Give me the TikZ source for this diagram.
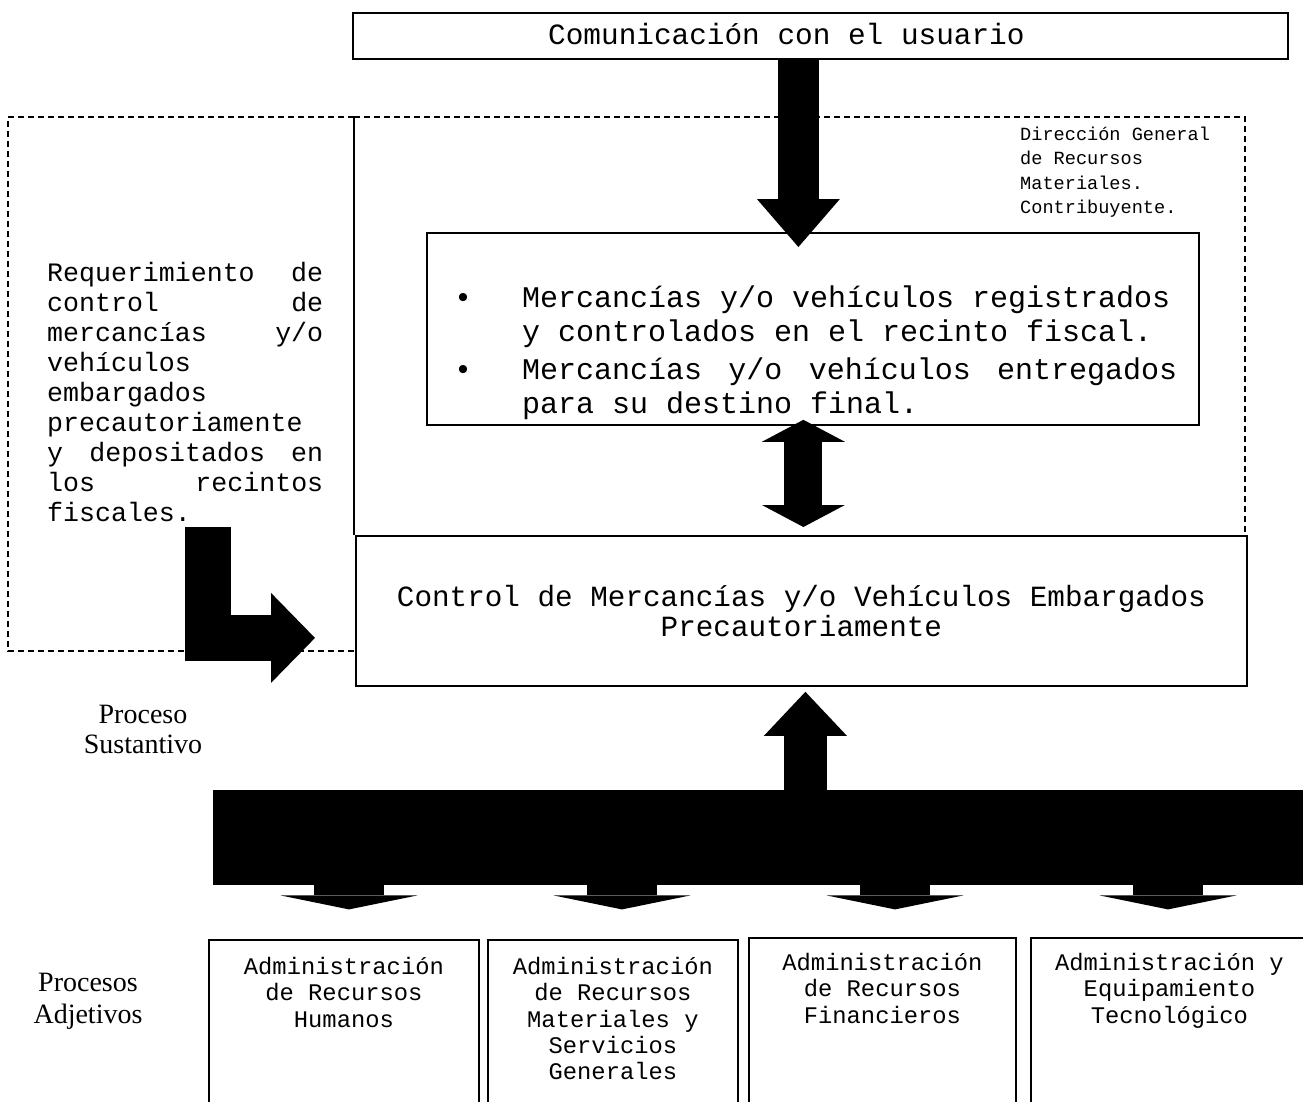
\documentclass[tikz,border=0pt]{standalone}
\usepackage{fontspec}
\setmainfont{Liberation Serif}
\newfontfamily\cour{Liberation Mono}
\usetikzlibrary{arrows.meta,positioning,calc}

\tikzset{
  panel/.style={draw, line width=1.8pt, inner sep=0pt},
  dashframe/.style={line width=1.3pt, dash pattern=on 6pt off 4pt},
  blk/.style={draw=black, line width=#1},
  admtext/.style={align=center, inner sep=0pt, font=\cour\fontsize{23.8}{26.3}\selectfont},
}

\begin{document}
\begin{tikzpicture}[x=1pt, y=-1pt]
    \useasboundingbox (0,0) rectangle (1303,1101);

    %boxes
    \node[panel, anchor=north west, minimum width=935pt, minimum height=46pt] (usr) at (352,12) {};
    \node[panel, anchor=north west, minimum width=772pt, minimum height=192pt] (bul) at (426,232) {};
    \node[panel, anchor=north west, minimum width=891pt, minimum height=150pt, align=center,
      font=\cour\fontsize{29.3}{30}\selectfont] (ctrl) at (355,535)
      {Control de Mercancías y/o Vehículos Embargados\\Precautoriamente};
    \node[panel, anchor=north west, minimum width=270pt, minimum height=175pt] (rh) at (208,939) {};
    \node[panel, anchor=north west, minimum width=250pt, minimum height=175pt] (rm) at (487,939) {};
    \node[panel, anchor=north west, minimum width=267pt, minimum height=175pt] (rf) at (748,937) {};
    \node[panel, anchor=north west, minimum width=285pt, minimum height=175pt] (ti) at (1030,937) {};

    %dashed area
    \draw[dashframe] (354,117) -- (8,117) -- (8,651) -- (355,651);
    \draw[dashframe] (354,117) -- (1245,117) -- (1245,535);
    \draw[line width=1.2pt] (354,117) -- (354,535);

    %texts
    \node[anchor=base west, inner sep=0pt, font=\cour\fontsize{29.4}{30}\selectfont] (usrtxt) at (548,44)
      {Comunicación con el usuario};
    \node[anchor=north west, align=left, inner sep=0pt, font=\cour\fontsize{18.6}{24.3}\selectfont] (dgrm) at (1020,127)
      {\spaceskip=0pt Dirección General\\de Recursos\\Materiales.\\Contribuyente.};
    \node[anchor=north west, text width=723pt, align=justify, inner sep=0pt, font=\cour\fontsize{30}{34}\selectfont] (bultxt) at (454,286)
      {\spaceskip=0pt \makebox[68pt][l]{•}Mercancías y/o vehículos registrados\\
       \hspace*{68pt}y controlados en el recinto fiscal.\\[4pt]
       \makebox[68pt][l]{•}Mercancías\hfill y/o\hfill vehículos\hfill entregados\\
       \hspace*{68pt}para su destino final.};
    \node[anchor=north west, text width=276pt, align=left, inner sep=0pt, font=\cour\fontsize{26.6}{30}\selectfont] (req) at (47,262)
      {Requerimiento\hfill de\\control\hfill de\\mercancías\hfill y/o\\vehículos\\embargados\\precautoriamente\\y\hfill depositados\hfill en\\los\hfill recintos\\fiscales.};
    \node[anchor=north, align=center, inner sep=0pt, font=\fontsize{28}{30}\selectfont] (sust) at (143,705) {Proceso\\Sustantivo};
    \node[anchor=north, align=center, inner sep=0pt, font=\fontsize{28}{32}\selectfont] (adj) at (88,973) {Procesos\\Adjetivos};

    \node[admtext, below=18pt of rh.north] (rhtxt) {Administración\\de Recursos\\Humanos};
    \node[admtext, below=18pt of rm.north] (rmtxt) {Administración\\de Recursos\\Materiales y\\Servicios\\Generales};
    \node[admtext, below=16pt of rf.north] (rftxt) {Administración\\de Recursos\\Financieros};
    \node[admtext, below=16pt of ti.north, xshift=-4pt] (titxt) {Administración y\\Equipamiento\\Tecnológico};

    %bar
    \node[anchor=north west, fill=black, minimum width=1100pt, minimum height=95pt, inner sep=0pt] (bar) at (213,790) {};

    %arrows
    \draw[blk=41pt, -{Triangle[width=83pt,length=48pt,line width=0pt]}]
      ($(usr.south -| ctrl.north)+(-3,0)$) -- ($(bul.north -| ctrl.north)+(-3,15)$);
    \draw[blk=38pt, {Triangle[width=83pt,length=22pt,line width=0pt]}-{Triangle[width=83pt,length=22pt,line width=0pt]}]
      ($(bul.south -| ctrl.north)+(2,-6)$) -- ($(ctrl.north)+(2,-8)$);
    \draw[blk=43pt, -{Triangle[width=83pt,length=44pt,line width=0pt]}]
      ($(ctrl.south |- bar.north)+(4,2)$) -- ($(ctrl.south)+(4,5)$);
    \coordinate (lstart) at (207.5,527);
    \draw[blk=46pt, line join=miter, -{Triangle[width=90pt,length=44pt,line width=0pt]}]
      (lstart) |- ($(ctrl.west)+(-40,27)$);
    \foreach \dx in {136,409,682,955}
      \draw[blk=70pt, -{Triangle[width=137pt,length=14pt,line width=0pt]}]
        ($(bar.south west)+(\dx,-2)$) -- ($(bar.south west)+(\dx,24)$);
\end{tikzpicture}
\end{document}
